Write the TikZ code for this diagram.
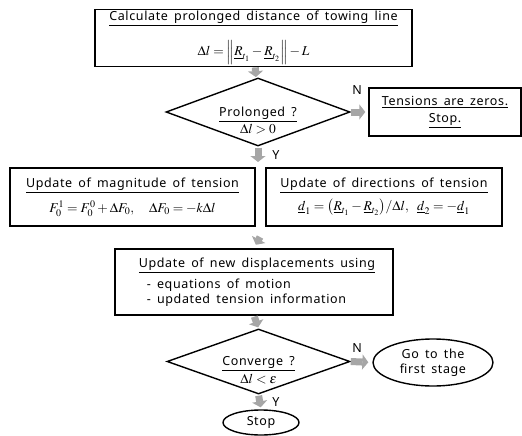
\documentclass[tikz,border=0pt]{standalone}
\usepackage{mathptmx}
\usepackage[no-math]{fontspec}
\setmainfont{Noto Sans}[LetterSpace=5,WordSpace=1.6]
\usepackage{xcolor}
\usetikzlibrary{arrows.meta,positioning,shapes.geometric}

\definecolor{flowgray}{HTML}{A6A6A6}
\newcommand{\formula}[1]{{\fontsize{13.5}{15}\selectfont$#1$}}
\newcommand{\lowered}[1]{\raisebox{-10pt}[\height][\depth]{\begin{tabular}{@{}c@{}}#1\end{tabular}}}

\tikzset{
  procbox/.style={draw, line width=1.4pt, align=center, inner sep=2pt},
  decision/.style={draw, diamond, aspect=2.7, line width=1.4pt, align=center, inner sep=0pt},
  terminal/.style={draw, ellipse, line width=1.4pt, align=center, inner sep=0pt},
  flowarrow/.style={draw=flowgray, line width=7pt, -{Triangle[width=15pt,length=6pt]}},
  flowlabel/.style={inner sep=0pt}
}

\begin{document}
\begin{tikzpicture}[x=1pt,y=-1pt,font=\fontsize{12.5}{14.5}\selectfont]
  \useasboundingbox (0,0) rectangle (522,436);
  % first stage
  \node[procbox, minimum width=317pt, minimum height=56pt] (calc) at (253.5,38)
    {\underline{Calculate prolonged distance of towing line}\\[13pt]
     \formula{\Delta l = \Bigl\| \underline{R}_{t_1} - \underline{R}_{t_2} \Bigr\| - L}};
  \node[decision, minimum width=184pt, minimum height=68pt] (prolong) at (258,112)
    {\lowered{\underline{Prolonged ?}\\[3pt] \formula{\Delta l > 0}}};
  \node[procbox, minimum width=152pt, minimum height=48pt] (zero) at (445,112)
    {\underline{Tensions are zeros.}\\[2pt] \underline{Stop.}};
  % tension updates
  \node[procbox, minimum width=245pt, minimum height=58pt] (magnitude) at (132.5,197)
    {\underline{Update of magnitude of tension}\\[7pt]
     \formula{F_0^1 = F_0^0 + \Delta F_0,\ \ \Delta F_0 = -k\Delta l}};
  \node[procbox, minimum width=236pt, minimum height=58pt] (direction) at (384,197)
    {\underline{Update of directions of tension}\\[5pt]
     \formula{\underline{d}_1 = \bigl(\underline{R}_{t_1} - \underline{R}_{t_2}\bigr)/\Delta l,\ \underline{d}_2 = -\underline{d}_1}};
  \node[procbox, align=left, minimum width=278pt, minimum height=66pt] (update) at (254,282)
    {\hspace*{6pt}\underline{Update of new displacements using}\\[5pt]
     \hspace*{14pt}- equations of motion\\[1pt]
     \hspace*{14pt}- updated tension information};
  % convergence check
  \node[decision, minimum width=183pt, minimum height=65pt] (converge) at (258.5,361.5)
    {\lowered{\underline{Converge ?}\\[3pt] \formula{\Delta l < \varepsilon}}};
  \node[terminal, minimum width=120pt, minimum height=47pt] (restart) at (433,362.5)
    {Go to the\\ first stage};
  \node[terminal, minimum width=76pt, minimum height=25pt] (stop) at (261,422.5) {Stop};

  \coordinate (split) at (258,162);
  \coordinate (merge) at (260,237);

  \draw[flowarrow, shorten >=1pt] (calc) -- (prolong);
  \draw[flowarrow, shorten >=3pt] (prolong.east) -- (zero.west);
  \draw[flowarrow, shorten <=1pt] (prolong.south) -- (split);
  \draw[flowarrow, shorten >=4pt] (merge) -- (update.north);
  \draw[flowarrow, shorten <=1pt, shorten >=1pt] (update.south) -- (converge.north);
  \draw[flowarrow, shorten >=4pt] (converge.east) -- (restart.west);
  \draw[flowarrow, shorten <=1pt, shorten >=2pt] (converge.south) -- (stop.north);

  \node[flowlabel] (n1) at (357,90) {N};
  \node[flowlabel] (y1) at (276,155) {Y};
  \node[flowlabel] (n2) at (357,348) {N};
  \node[flowlabel] (y2) at (276,402) {Y};
\end{tikzpicture}
\end{document}
